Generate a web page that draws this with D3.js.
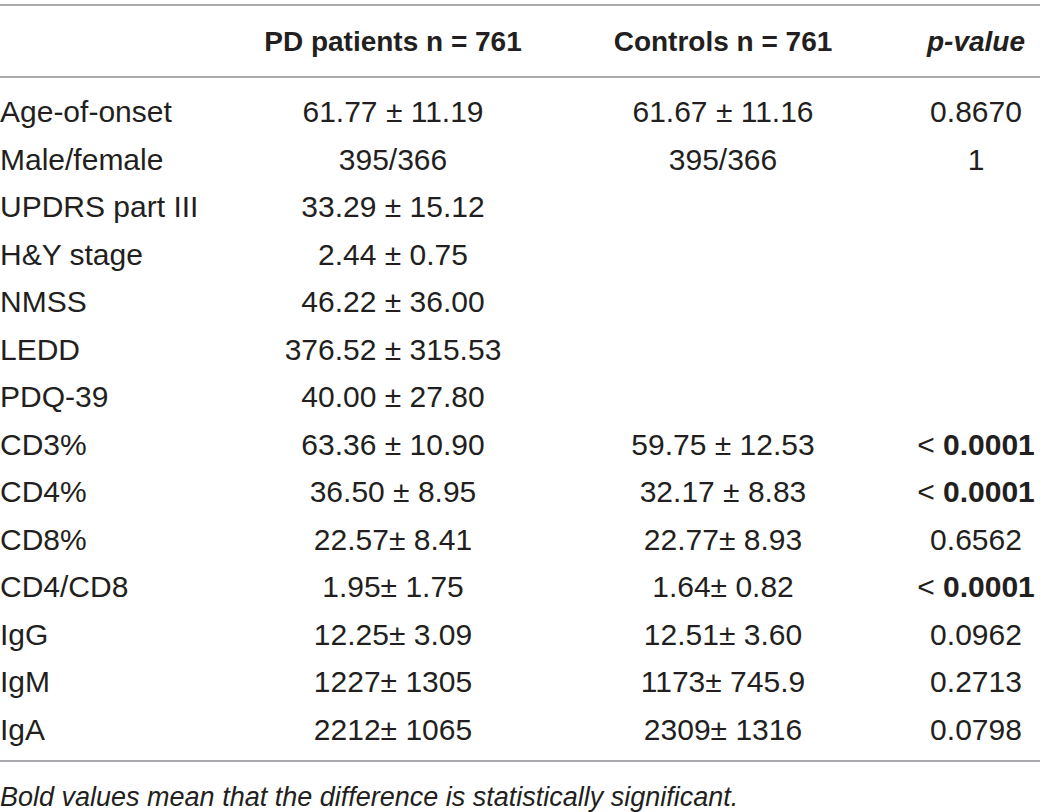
<!DOCTYPE html>
<html>
<head>
<meta charset="utf-8">
<script src="https://cdn.jsdelivr.net/npm/d3@7"></script>
<style>
  html, body { margin: 0; padding: 0; background: #ffffff; }
  svg { display: block; }
  text { font-family: "Liberation Sans", Arial, Helvetica, sans-serif; fill: #231f20; }
</style>
</head>
<body>
<svg id="table" width="1040" height="812"></svg>
<script>
/* eslint-env browser */
/* global d3: false */

const headers = ['', 'PD patients n = 761', 'Controls n = 761', 'p-value'];
const rowLabels = ['Age-of-onset', 'Male/female', 'UPDRS part III', 'H&Y stage', 'NMSS', 'LEDD',
  'PDQ-39', 'CD3%', 'CD4%', 'CD8%', 'CD4/CD8', 'IgG', 'IgM', 'IgA'];
const pdValues = ['61.77 \u00b1 11.19', '395/366', '33.29 \u00b1 15.12', '2.44 \u00b1 0.75',
  '46.22 \u00b1 36.00', '376.52 \u00b1 315.53', '40.00 \u00b1 27.80', '63.36 \u00b1 10.90',
  '36.50 \u00b1 8.95', '22.57\u00b1 8.41', '1.95\u00b1 1.75', '12.25\u00b1 3.09',
  '1227\u00b1 1305', '2212\u00b1 1065'];
const controlValues = ['61.67 \u00b1 11.16', '395/366', '', '', '', '', '', '59.75 \u00b1 12.53',
  '32.17 \u00b1 8.83', '22.77\u00b1 8.93', '1.64\u00b1 0.82', '12.51\u00b1 3.60',
  '1173\u00b1 745.9', '2309\u00b1 1316'];
const pValues = ['0.8670', '1', '', '', '', '', '', '0.0001', '0.0001', '0.6562', '0.0001',
  '0.0962', '0.2713', '0.0798'];
const significant = [false, false, false, false, false, false, false, true, true, false, true,
  false, false, false];
const footnote = 'Bold values mean that the difference is statistically significant.';

const width = 1040;
const svg = d3.select('#table');

const colX = d3.scaleOrdinal()
  .domain(['label', 'pd', 'controls', 'p'])
  .range([0, 393, 723, 976]);

const y = d3.scaleBand()
  .domain(d3.range(rowLabels.length))
  .range([88, 753]);

const ruleColor = '#a7a9ac';
const fontSize = 30;

function rule(yPos) {
  svg.append('line')
    .attr('x1', 0)
    .attr('x2', width)
    .attr('y1', yPos)
    .attr('y2', yPos)
    .attr('stroke', ruleColor)
    .attr('stroke-width', 2);
}

rule(5);
rule(77);
rule(761);

// header row
const head = svg.append('g').attr('font-size', 28).attr('font-weight', 'bold');
head.append('text')
  .attr('x', colX('pd'))
  .attr('y', 41)
  .attr('dy', '0.35em')
  .attr('text-anchor', 'middle')
  .text(headers[1]);
head.append('text')
  .attr('x', colX('controls'))
  .attr('y', 41)
  .attr('dy', '0.35em')
  .attr('text-anchor', 'middle')
  .text(headers[2]);
head.append('text')
  .attr('x', colX('p'))
  .attr('y', 41)
  .attr('dy', '0.35em')
  .attr('text-anchor', 'middle')
  .attr('font-style', 'italic')
  .text(headers[3]);

// body rows
const rows = svg.append('g')
  .attr('font-size', fontSize)
  .selectAll('g')
  .data(rowLabels.map((label, i) => ({
    label,
    pd: pdValues[i],
    controls: controlValues[i],
    p: pValues[i],
    sig: significant[i],
  })))
  .join('g')
  .attr('transform', (d, i) => `translate(0,${y(i) + y.bandwidth() / 2})`);

rows.append('text')
  .attr('x', colX('label'))
  .attr('dy', '0.35em')
  .text((d) => d.label);

rows.append('text')
  .attr('x', colX('pd'))
  .attr('dy', '0.35em')
  .attr('text-anchor', 'middle')
  .text((d) => d.pd);

rows.append('text')
  .attr('x', colX('controls'))
  .attr('dy', '0.35em')
  .attr('text-anchor', 'middle')
  .text((d) => d.controls);

const pText = rows.append('text')
  .attr('x', colX('p'))
  .attr('dy', '0.35em')
  .attr('text-anchor', 'middle');

pText.each(function addP(d) {
  const t = d3.select(this);
  if (d.sig) {
    t.append('tspan').text('< ');
    t.append('tspan').attr('font-weight', 'bold').text(d.p);
  } else {
    t.text(d.p);
  }
});

svg.append('text')
  .attr('x', 0)
  .attr('y', 797)
  .attr('dy', '0.35em')
  .attr('font-size', 27)
  .attr('font-style', 'italic')
  .text(footnote);
</script>
</body>
</html>
